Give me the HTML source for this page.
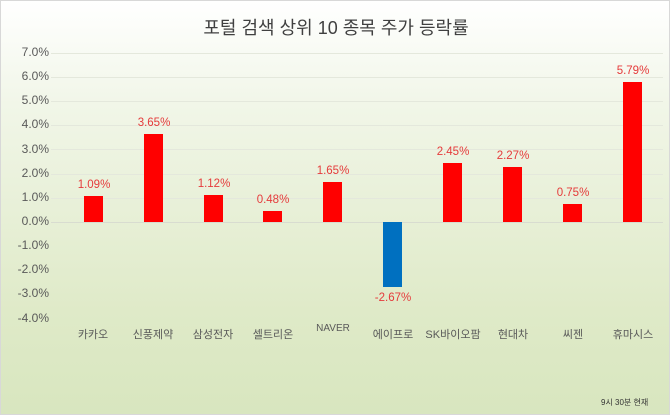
<!DOCTYPE html>
<html><head><meta charset="utf-8"><style>
body{margin:0;}
.c{position:relative;width:670px;height:415px;overflow:hidden;font-family:"Liberation Sans","Noto Sans CJK KR",sans-serif;
background:linear-gradient(to bottom,#ffffff 0%,#f1f6e8 25%,#dfeac8 75%,#d8e6bf 100%);border:1px solid #d8d8d8;box-sizing:border-box}
.t{position:absolute;left:0;width:670px;text-align:center;top:13px;font-size:18px;color:#404040}
.y{position:absolute;left:6px;width:42px;text-align:right;font-size:12px;color:#595959}
.g{position:absolute;left:50px;width:612px;height:1px;background:#e4e8dc}
.b{position:absolute;width:19px}
.v{position:absolute;width:60px;text-align:center;font-size:11.5px;color:#e53b3b}
.x{position:absolute;top:325px;width:70px;text-align:center;font-size:11px;color:#595959}
</style></head><body><div class="c">
<div class="t">포털 검색 상위 10 종목 주가 등락률</div>
<div class="g" style="top:52px"></div><div class="g" style="top:76px"></div><div class="g" style="top:100px"></div><div class="g" style="top:124px"></div><div class="g" style="top:148px"></div><div class="g" style="top:173px"></div><div class="g" style="top:197px"></div><div class="g" style="top:221px;background:#d8dcd0"></div>
<div class="y" style="top:44px">7.0%</div><div class="y" style="top:68px">6.0%</div><div class="y" style="top:92px">5.0%</div><div class="y" style="top:116px">4.0%</div><div class="y" style="top:141px">3.0%</div><div class="y" style="top:165px">2.0%</div><div class="y" style="top:189px">1.0%</div><div class="y" style="top:213px">0.0%</div><div class="y" style="top:237px">-1.0%</div><div class="y" style="top:261px">-2.0%</div><div class="y" style="top:285px">-3.0%</div><div class="y" style="top:310px">-4.0%</div>
<div class="b" style="left:83px;top:195px;height:26px;background:#f00"></div><div class="v" style="left:63px;top:178px">1.09%</div>
<div class="b" style="left:143px;top:133px;height:88px;background:#f00"></div><div class="v" style="left:123px;top:116px">3.65%</div>
<div class="b" style="left:203px;top:194px;height:27px;background:#f00"></div><div class="v" style="left:183px;top:177px">1.12%</div>
<div class="b" style="left:262px;top:210px;height:11px;background:#f00"></div><div class="v" style="left:242px;top:193px">0.48%</div>
<div class="b" style="left:322px;top:181px;height:40px;background:#f00"></div><div class="v" style="left:302px;top:164px">1.65%</div>
<div class="b" style="left:382px;top:221px;height:65px;background:#0070c0"></div><div class="v" style="left:362px;top:291px">-2.67%</div>
<div class="b" style="left:442px;top:162px;height:59px;background:#f00"></div><div class="v" style="left:422px;top:145px">2.45%</div>
<div class="b" style="left:502px;top:166px;height:55px;background:#f00"></div><div class="v" style="left:482px;top:149px">2.27%</div>
<div class="b" style="left:562px;top:203px;height:18px;background:#f00"></div><div class="v" style="left:542px;top:186px">0.75%</div>
<div class="b" style="left:622px;top:81px;height:140px;background:#f00"></div><div class="v" style="left:602px;top:64px">5.79%</div>
<div class="x" style="left:57px">카카오</div><div class="x" style="left:117px">신풍제약</div><div class="x" style="left:177px">삼성전자</div><div class="x" style="left:237px">셀트리온</div><div class="x" style="left:297px;font-size:10px;top:322px">NAVER</div><div class="x" style="left:357px">에이프로</div><div class="x" style="left:417px">SK바이오팜</div><div class="x" style="left:477px">현대차</div><div class="x" style="left:537px">씨젠</div><div class="x" style="left:597px">휴마시스</div>
<div style="position:absolute;left:600px;top:396px;font-size:8px;color:#333">9시 30분 현재</div>
</div></body></html>
